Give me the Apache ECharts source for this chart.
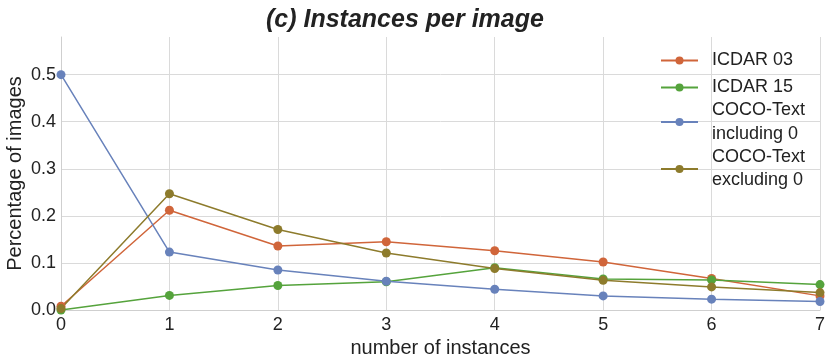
<!DOCTYPE html>
<html>
<head>
<meta charset="utf-8">
<script src="https://cdn.jsdelivr.net/npm/echarts@6/dist/echarts.min.js"></script>
<style>
  html, body { margin: 0; padding: 0; background: #fff; }
  #chart { width: 830px; height: 364px; }
</style>
</head>
<body>
<div id="chart"></div>
<script>
// number of instances per image
var xValues = [0, 1, 2, 3, 4, 5, 6, 7];
var icdar03 = [0.008, 0.212, 0.136, 0.145, 0.126, 0.102, 0.067, 0.030];
var icdar15 = [0.000, 0.031, 0.052, 0.060, 0.090, 0.066, 0.064, 0.054];
var cocoIncl = [0.500, 0.123, 0.085, 0.061, 0.044, 0.030, 0.023, 0.018];
var cocoExcl = [0.003, 0.247, 0.171, 0.121, 0.088, 0.063, 0.049, 0.037];
var seriesNames = ['ICDAR 03', 'ICDAR 15', 'COCO-Text\nincluding 0', 'COCO-Text\nexcluding 0'];
var colors = ['#d0653a', '#55a33c', '#6882bb', '#8d7b2c'];

function pairs(ys) {
	var out = [];
	for (var i = 0; i < xValues.length; i++) {
		out.push([xValues[i], ys[i]]);
	}
	return out;
}

function lineSeries(name, ys, color) {
	return {
		name: name,
		type: 'line',
		data: pairs(ys),
		symbol: 'circle',
		symbolSize: 9,
		color: color,
		lineStyle: { width: 1.5, color: color },
		itemStyle: { color: color },
		emphasis: { disabled: true }
	};
}

var font = 'Liberation Sans, Arial, sans-serif';
// legend rows are spaced unevenly in the original, so pad each one
var legendData = [
	{ name: seriesNames[0], textStyle: { lineHeight: 23, padding: [5, 0, 5, 9] } },
	{ name: seriesNames[1], textStyle: { lineHeight: 21, padding: [0, 0, 0, 9] } },
	{ name: seriesNames[2], textStyle: { lineHeight: 24, padding: [0, 0, 0, 9] } },
	{ name: seriesNames[3], textStyle: { lineHeight: 23, padding: [0, 0, 0, 9] } }
];

var chart = echarts.init(document.getElementById('chart'));
chart.setOption({
	animation: false,
	backgroundColor: '#fff',
	title: {
		text: '(c) Instances per image',
		left: 266,
		top: 8,
		padding: 0,
		textStyle: { fontFamily: font, fontSize: 25, fontWeight: 'bold', fontStyle: 'italic', color: '#222' }
	},
	legend: {
		orient: 'vertical',
		left: 660,
		top: 44,
		padding: 0,
		itemWidth: 37,
		itemHeight: 10,
		itemGap: 0,
		data: legendData,
		textStyle: { fontFamily: font, fontSize: 18, lineHeight: 23, color: '#222', padding: [0, 0, 0, 9] }
	},
	grid: { left: 61, right: 10, top: 37, bottom: 54, outerBoundsMode: 'none' },
	xAxis: {
		type: 'value',
		min: 0,
		max: 7,
		interval: 1,
		name: 'number of instances',
		nameLocation: 'middle',
		nameGap: 28,
		nameTextStyle: { fontFamily: font, fontSize: 20, color: '#222' },
		axisLine: { lineStyle: { color: '#cfcfcf' } },
		axisTick: { show: false },
		axisLabel: { fontFamily: font, fontSize: 18, color: '#222', margin: 6 },
		splitLine: { lineStyle: { color: '#dadada', width: 1 } }
	},
	yAxis: {
		type: 'value',
		min: 0,
		max: 0.58,
		interval: 0.1,
		name: 'Percentage of images',
		nameLocation: 'middle',
		nameGap: 36,
		nameMoveOverlap: false,
		nameTextStyle: { fontFamily: font, fontSize: 20, color: '#222' },
		axisLine: { show: true, lineStyle: { color: '#cfcfcf' } },
		axisTick: { show: false },
		axisLabel: {
			fontFamily: font, fontSize: 18, color: '#222', margin: 5,
			showMaxLabel: false,
			formatter: function(v) { return v.toFixed(1); }
		},
		splitLine: { showMaxLine: false, lineStyle: { color: '#dadada', width: 1 } }
	},
	series: [
		lineSeries(seriesNames[0], icdar03, colors[0]),
		lineSeries(seriesNames[1], icdar15, colors[1]),
		lineSeries(seriesNames[2], cocoIncl, colors[2]),
		lineSeries(seriesNames[3], cocoExcl, colors[3])
	]
});
</script>
</body>
</html>
